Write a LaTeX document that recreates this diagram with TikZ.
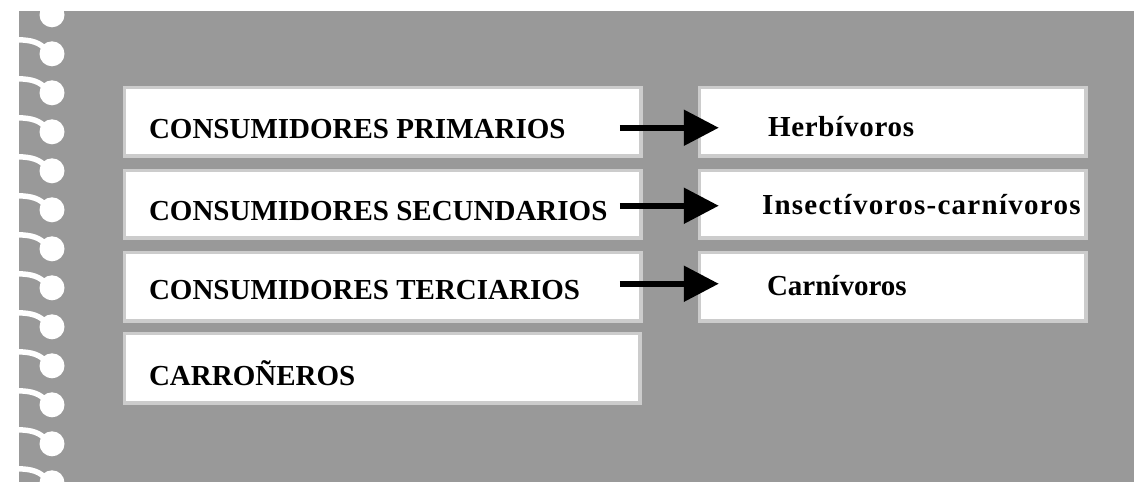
\documentclass[tikz,border=0pt]{standalone}
\usepackage{fontspec}
\setmainfont{Liberation Serif}
\usetikzlibrary{arrows.meta}
\definecolor{bg}{RGB}{153,153,153}
\definecolor{rim}{RGB}{204,204,204}
\begin{document}
\begin{tikzpicture}[x=1pt,y=-1pt,
  box/.style={draw=rim, line width=3.5pt, fill=white, rectangle, anchor=north west, inner sep=0pt},
  lbl/.style={font=\fontsize{29}{33}\selectfont\bfseries, anchor=base west, inner sep=0pt, outer sep=0pt},
  arr/.style={line width=5.5pt, -{Triangle[length=35pt,width=35pt]}},
  ring/.style={fill=white},
  hook/.style={draw=white, line width=5.5pt}]
\path[use as bounding box, fill=white] (0,0) rectangle (1134,482);
\clip (0,0) rectangle (1134,482);
\fill[bg] (19,11) rectangle (1134,482);
% spiral binding
\foreach \k in {0,...,12}{
  \pgfmathsetmacro{\cy}{14.8+39*\k}
  \fill[ring] (52,\cy) circle[radius=12.5pt];
  \draw[hook] (17,\cy-14) .. controls (32,\cy-14) and (40,\cy-11) .. (46,\cy-4);
}
% left boxes
\node[box, minimum width=516.5pt, minimum height=68.5pt] (L1) at (122.75,85.75) {};
\node[box, minimum width=516.5pt, minimum height=67.5pt] (L2) at (122.75,168.75) {};
\node[box, minimum width=516.5pt, minimum height=68.5pt] (L3) at (122.75,250.75) {};
\node[box, minimum width=515.5pt, minimum height=69.5pt] (L4) at (122.75,331.75) {};
% right boxes
\node[box, minimum width=386.5pt, minimum height=68.5pt] (R1) at (697.75,85.75) {};
\node[box, minimum width=386.5pt, minimum height=67.5pt] (R2) at (697.75,168.75) {};
\node[box, minimum width=386.5pt, minimum height=68.5pt] (R3) at (697.75,250.75) {};
% labels
\node[lbl] (t1) at (149,138) {CONSUMIDORES PRIMARIOS};
\node[lbl] (t2) at (149,220) {CONSUMIDORES SECUNDARIOS};
\node[lbl] (t3) at (149,299) {CONSUMIDORES TERCIARIOS};
\node[lbl] (t4) at (149,385) {CARROÑEROS};
\node[lbl] (u1) at (768,136.5) {\addfontfeature{LetterSpace=2.5}Herbívoros};
\node[lbl] (u2) at (762,214) {\addfontfeature{LetterSpace=4.4}Insectívoros-carnívoros};
\node[lbl] (u3) at (767,295.5) {Carnívoros};
% arrows
\draw[arr] ([shift={(-23,6)}]L1.east) -- ([shift={(21,6)}]R1.west);
\draw[arr] ([shift={(-23,1.5)}]L2.east) -- ([shift={(21,1.5)}]R2.west);
\draw[arr] ([shift={(-23,-3)}]L3.east) -- ([shift={(21,-3)}]R3.west);
\end{tikzpicture}
\end{document}
